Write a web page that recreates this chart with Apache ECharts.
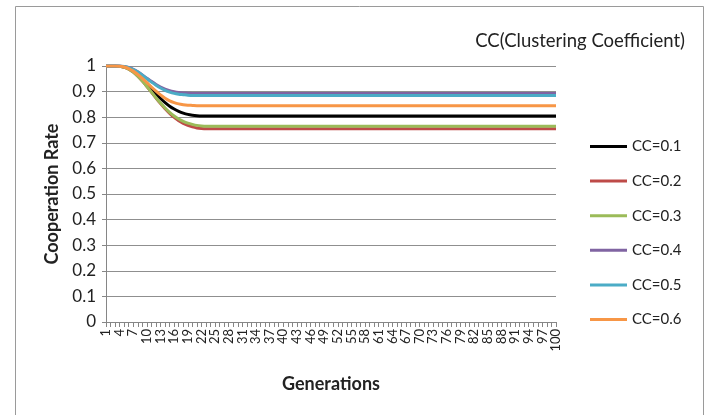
<!DOCTYPE html>
<html>
<head>
<meta charset="utf-8">
<script src="https://cdn.jsdelivr.net/npm/echarts@6/dist/echarts.min.js"></script>
<style>
html,body{margin:0;padding:0;background:#fff;}
#chart{width:716px;height:415px;}
</style>
</head>
<body>
<div id="chart"></div>
<script>
var generations = [
 '1','2','3','4','5','6','7','8','9','10',
 '11','12','13','14','15','16','17','18','19','20',
 '21','22','23','24','25','26','27','28','29','30',
 '31','32','33','34','35','36','37','38','39','40',
 '41','42','43','44','45','46','47','48','49','50',
 '51','52','53','54','55','56','57','58','59','60',
 '61','62','63','64','65','66','67','68','69','70',
 '71','72','73','74','75','76','77','78','79','80',
 '81','82','83','84','85','86','87','88','89','90',
 '91','92','93','94','95','96','97','98','99','100'
];
var yTicks = [0, 0.1, 0.2, 0.3, 0.4, 0.5, 0.6, 0.7, 0.8, 0.9, 1];
var seriesNames = ['CC=0.1','CC=0.2','CC=0.3','CC=0.4','CC=0.5','CC=0.6'];

var cc01 = [
 1, 1, 1, 0.999, 0.996, 0.99, 0.979, 0.965, 0.948, 0.929,
 0.91, 0.891, 0.873, 0.857, 0.843, 0.832, 0.823, 0.816, 0.811, 0.808,
 0.806, 0.805, 0.805, 0.805, 0.805, 0.805, 0.805, 0.805, 0.805, 0.805,
 0.805, 0.805, 0.805, 0.805, 0.805, 0.805, 0.805, 0.805, 0.805, 0.805,
 0.805, 0.805, 0.805, 0.805, 0.805, 0.805, 0.805, 0.805, 0.805, 0.805,
 0.805, 0.805, 0.805, 0.805, 0.805, 0.805, 0.805, 0.805, 0.805, 0.805,
 0.805, 0.805, 0.805, 0.805, 0.805, 0.805, 0.805, 0.805, 0.805, 0.805,
 0.805, 0.805, 0.805, 0.805, 0.805, 0.805, 0.805, 0.805, 0.805, 0.805,
 0.805, 0.805, 0.805, 0.805, 0.805, 0.805, 0.805, 0.805, 0.805, 0.805,
 0.805, 0.805, 0.805, 0.805, 0.805, 0.805, 0.805, 0.805, 0.805, 0.805
];
var cc02 = [
 1, 1, 1, 0.999, 0.995, 0.988, 0.976, 0.96, 0.941, 0.92,
 0.898, 0.875, 0.853, 0.833, 0.815, 0.799, 0.786, 0.776, 0.768, 0.762,
 0.758, 0.756, 0.755, 0.755, 0.755, 0.755, 0.755, 0.755, 0.755, 0.755,
 0.755, 0.755, 0.755, 0.755, 0.755, 0.755, 0.755, 0.755, 0.755, 0.755,
 0.755, 0.755, 0.755, 0.755, 0.755, 0.755, 0.755, 0.755, 0.755, 0.755,
 0.755, 0.755, 0.755, 0.755, 0.755, 0.755, 0.755, 0.755, 0.755, 0.755,
 0.755, 0.755, 0.755, 0.755, 0.755, 0.755, 0.755, 0.755, 0.755, 0.755,
 0.755, 0.755, 0.755, 0.755, 0.755, 0.755, 0.755, 0.755, 0.755, 0.755,
 0.755, 0.755, 0.755, 0.755, 0.755, 0.755, 0.755, 0.755, 0.755, 0.755,
 0.755, 0.755, 0.755, 0.755, 0.755, 0.755, 0.755, 0.755, 0.755, 0.755
];
var cc03 = [
 1, 1, 1, 0.999, 0.995, 0.988, 0.976, 0.96, 0.941, 0.92,
 0.898, 0.876, 0.855, 0.836, 0.819, 0.805, 0.793, 0.784, 0.777, 0.772,
 0.768, 0.766, 0.765, 0.765, 0.765, 0.765, 0.765, 0.765, 0.765, 0.765,
 0.765, 0.765, 0.765, 0.765, 0.765, 0.765, 0.765, 0.765, 0.765, 0.765,
 0.765, 0.765, 0.765, 0.765, 0.765, 0.765, 0.765, 0.765, 0.765, 0.765,
 0.765, 0.765, 0.765, 0.765, 0.765, 0.765, 0.765, 0.765, 0.765, 0.765,
 0.765, 0.765, 0.765, 0.765, 0.765, 0.765, 0.765, 0.765, 0.765, 0.765,
 0.765, 0.765, 0.765, 0.765, 0.765, 0.765, 0.765, 0.765, 0.765, 0.765,
 0.765, 0.765, 0.765, 0.765, 0.765, 0.765, 0.765, 0.765, 0.765, 0.765,
 0.765, 0.765, 0.765, 0.765, 0.765, 0.765, 0.765, 0.765, 0.765, 0.765
];
var cc04 = [
 1, 1, 1, 1, 0.998, 0.994, 0.987, 0.977, 0.965, 0.952,
 0.94, 0.928, 0.918, 0.91, 0.904, 0.9, 0.897, 0.895, 0.894, 0.893,
 0.893, 0.893, 0.893, 0.893, 0.893, 0.893, 0.893, 0.893, 0.893, 0.893,
 0.893, 0.893, 0.893, 0.893, 0.893, 0.893, 0.893, 0.893, 0.893, 0.893,
 0.893, 0.893, 0.893, 0.893, 0.893, 0.893, 0.893, 0.893, 0.893, 0.893,
 0.893, 0.893, 0.893, 0.893, 0.893, 0.893, 0.893, 0.893, 0.893, 0.893,
 0.893, 0.893, 0.893, 0.893, 0.893, 0.893, 0.893, 0.893, 0.893, 0.893,
 0.893, 0.893, 0.893, 0.893, 0.893, 0.893, 0.893, 0.893, 0.893, 0.893,
 0.893, 0.893, 0.893, 0.893, 0.893, 0.893, 0.893, 0.893, 0.893, 0.893,
 0.893, 0.893, 0.893, 0.893, 0.893, 0.893, 0.893, 0.893, 0.893, 0.893
];
var cc05 = [
 1, 1, 1, 1, 0.998, 0.993, 0.986, 0.976, 0.964, 0.95,
 0.937, 0.925, 0.914, 0.905, 0.898, 0.893, 0.89, 0.888, 0.886, 0.885,
 0.885, 0.885, 0.885, 0.885, 0.885, 0.885, 0.885, 0.885, 0.885, 0.885,
 0.885, 0.885, 0.885, 0.885, 0.885, 0.885, 0.885, 0.885, 0.885, 0.885,
 0.885, 0.885, 0.885, 0.885, 0.885, 0.885, 0.885, 0.885, 0.885, 0.885,
 0.885, 0.885, 0.885, 0.885, 0.885, 0.885, 0.885, 0.885, 0.885, 0.885,
 0.885, 0.885, 0.885, 0.885, 0.885, 0.885, 0.885, 0.885, 0.885, 0.885,
 0.885, 0.885, 0.885, 0.885, 0.885, 0.885, 0.885, 0.885, 0.885, 0.885,
 0.885, 0.885, 0.885, 0.885, 0.885, 0.885, 0.885, 0.885, 0.885, 0.885,
 0.885, 0.885, 0.885, 0.885, 0.885, 0.885, 0.885, 0.885, 0.885, 0.885
];
var cc06 = [
 1, 1, 1, 0.999, 0.996, 0.99, 0.98, 0.967, 0.952, 0.935,
 0.918, 0.902, 0.887, 0.874, 0.864, 0.857, 0.852, 0.849, 0.847, 0.846,
 0.845, 0.845, 0.845, 0.845, 0.845, 0.845, 0.845, 0.845, 0.845, 0.845,
 0.845, 0.845, 0.845, 0.845, 0.845, 0.845, 0.845, 0.845, 0.845, 0.845,
 0.845, 0.845, 0.845, 0.845, 0.845, 0.845, 0.845, 0.845, 0.845, 0.845,
 0.845, 0.845, 0.845, 0.845, 0.845, 0.845, 0.845, 0.845, 0.845, 0.845,
 0.845, 0.845, 0.845, 0.845, 0.845, 0.845, 0.845, 0.845, 0.845, 0.845,
 0.845, 0.845, 0.845, 0.845, 0.845, 0.845, 0.845, 0.845, 0.845, 0.845,
 0.845, 0.845, 0.845, 0.845, 0.845, 0.845, 0.845, 0.845, 0.845, 0.845,
 0.845, 0.845, 0.845, 0.845, 0.845, 0.845, 0.845, 0.845, 0.845, 0.845
];

var seriesData = [cc01, cc02, cc03, cc04, cc05, cc06];
var colors = ['#000000', '#BE4B48', '#9BBB59', '#8064A2', '#4BACC6', '#F79646'];
var FONT = 'Lato, "Open Sans", sans-serif';

var chart = echarts.init(document.getElementById('chart'), null, {renderer: 'canvas'});
chart.setOption({
  animation: false,
  backgroundColor: '#ffffff',
  title: {
    text: 'CC(Clustering Coefficient)',
    right: 26, top: 27,
    textStyle: {fontFamily: FONT, fontSize: 18.5, fontWeight: 'normal', color: '#222'}
  },
  graphic: [{
    type: 'rect', left: 13, top: 4, z: -1,
    shape: {width: 688, height: 430},
    style: {fill: 'none', stroke: '#9a9a9a', lineWidth: 1}
  }],
  legend: {
    orient: 'vertical',
    left: 585, top: 134,
    icon: 'rect',
    itemWidth: 37, itemHeight: 3, itemGap: 19.6,
    data: seriesNames,
    textStyle: {fontFamily: FONT, fontSize: 15, color: '#222', lineHeight: 14, padding: [0,0,0,0]}
  },
  grid: {left: 106, right: 160, top: 66, bottom: 93},
  xAxis: {
    type: 'category',
    data: generations,
    boundaryGap: false,
    name: 'Generations',
    nameLocation: 'middle',
    nameGap: 53,
    nameTextStyle: {fontFamily: FONT, fontSize: 18, fontWeight: 'bold', color: '#222'},
    axisLine: {lineStyle: {color: '#868686', width: 1}},
    axisTick: {show: true, interval: 0, length: 5, lineStyle: {color: '#868686'}},
    axisLabel: {interval: 2, rotate: 90, margin: 7, fontFamily: FONT, fontSize: 13, color: '#222',
      showMinLabel: true, showMaxLabel: true},
    splitLine: {show: false}
  },
  yAxis: {
    type: 'value',
    min: yTicks[0], max: yTicks[yTicks.length - 1], interval: 0.1,
    name: 'Cooperation Rate',
    nameLocation: 'middle',
    nameGap: 44,
    nameTextStyle: {fontFamily: FONT, fontSize: 18, fontWeight: 'bold', color: '#222'},
    axisLine: {show: true, lineStyle: {color: '#868686', width: 1}},
    axisTick: {show: true, length: 4, lineStyle: {color: '#868686'}},
    axisLabel: {margin: 10, fontFamily: FONT, fontSize: 17, color: '#222',
      formatter: function (v) { return String(Math.round(v * 10) / 10); }},
    splitLine: {show: true, lineStyle: {color: '#8f8f8f', width: 1}}
  },
  series: seriesNames.map(function (n, i) {
    return {
      name: n, type: 'line', data: seriesData[i],
      symbol: 'none', showSymbol: false, smooth: 0.3,
      color: colors[i],
      lineStyle: {width: 3, color: colors[i]},
      z: 2 + i
    };
  })
});
</script>
</body>
</html>
